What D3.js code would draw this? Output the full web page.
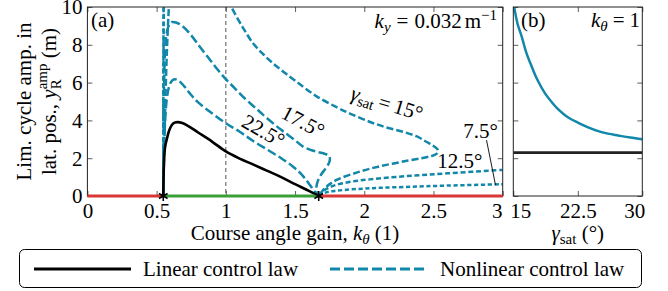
<!DOCTYPE html>
<html><head><meta charset="utf-8">
<script src="https://cdn.jsdelivr.net/npm/d3@7"></script>
<style>
body{margin:0;background:#fff}
svg{display:block}
text{font-family:"Liberation Serif","Tinos","Noto Serif","DejaVu Serif",serif;fill:#000;white-space:pre}
</style></head>
<body><svg id="c" width="668" height="291" xml:space="preserve"></svg>
<script>
// ---------- data ----------
const kTicks = [0, 0.5, 1, 1.5, 2, 2.5, 3];
const ampTicks = [0, 2, 4, 6, 8, 10];
const gammaTicks = [15, 22.5, 30];
const bifurcationK = [0.548, 1.671];
const stabilitySegments = [[0, 0.548, "unstable"], [0.548, 1.671, "stable"], [1.671, 3, "unstable"]];

// linear control law
const linK = [0.548,0.550,0.553,0.558,0.565,0.575,0.59,0.61,0.63,0.655,0.68,0.72,0.8,0.9,1.0,1.1,1.2,1.3,1.4,1.5,1.6,1.671];
const linY = [0,0.9,1.7,2.4,2.75,3.05,3.45,3.76,3.88,3.91,3.87,3.74,3.36,2.88,2.36,1.98,1.66,1.33,1.0,0.63,0.27,0];

// nonlinear, gamma_sat = 22.5
const g225K = [0.548,0.551,0.556,0.563,0.573,0.585,0.60,0.615,0.632,0.66,0.7,0.74,0.8,0.9,1.0,1.1,1.2,1.3,1.4,1.486,1.54,1.58,1.61,1.64,1.671];
const g225Y = [0,1.5,3.0,4.2,5.1,5.65,5.98,6.13,6.18,6.1,5.8,5.43,4.95,4.38,3.85,3.4,2.9,2.45,2.0,1.55,1.2,0.85,0.55,0.25,0];
// gamma_sat = 17.5
const g175K = [0.548,0.549,0.551,0.554,0.558,0.565,0.575,0.59,0.608,0.64,0.692,0.75,0.812,0.87,0.933,1.005,1.065,1.125,1.2,1.245,1.3,1.4,1.5,1.558,1.62,1.68,1.72,1.745,1.752,1.745,1.72,1.69,1.665,1.655,1.66,1.671];
const g175Y = [0,2,4,5.8,7.1,8.1,8.7,9.05,9.2,9.18,8.96,8.5,7.9,7.35,6.76,6.14,5.7,5.25,4.75,4.46,4.1,3.5,2.95,2.61,2.42,2.3,2.22,2.12,1.95,1.75,1.45,1.15,0.8,0.5,0.2,0];
// gamma_sat = 15 (two branches)
const g15aK = [0.548,0.555,0.565,0.575,0.585,0.592];
const g15aY = [0,2.5,5.5,7.8,9.5,10.5];
const g15bK = [1.02,1.041,1.12,1.197,1.27,1.341,1.42,1.51,1.65,1.8,1.9,2.038,2.15,2.279,2.38,2.448,2.5,2.532,2.525,2.5,2.448,2.279,2.1,1.95,1.8,1.72,1.671];
const g15bY = [10.4,10,8.95,8.08,7.5,7.02,6.55,6.05,5.3,4.7,4.35,3.93,3.65,3.4,3.15,2.87,2.65,2.43,2.25,2.15,2.05,1.82,1.55,1.25,0.85,0.45,0];
// gamma_sat = 12.5
const g125aK = [0.548,0.549,0.5515];
const g125aY = [0,5,10.5];
const g125bK = [1.671,1.71,1.78,1.9,2.04,2.3,2.6,3.0];
const g125bY = [0,0.3,0.55,0.75,0.88,1.05,1.2,1.38];
// gamma_sat = 7.5
const g75aK = [0.548,0.5485,0.5505];
const g75aY = [0,5,10.5];
const g75bK = [1.671,1.72,1.8,2.04,2.3,2.6,3.0];
const g75bY = [0,0.18,0.28,0.41,0.48,0.55,0.62];

// panel (b): k_theta = 1
const bGamma = [15.1,15.5,15.98,16.5,17.14,17.8,18.69,19.5,20.23,21.3,22.56,23.7,24.88,26,27.2,28.6,30];
const bAmpNonlin = [10,9.1,8.43,7.6,6.85,6.15,5.43,4.95,4.58,4.18,3.87,3.63,3.43,3.3,3.2,3.09,3.0];
const bAmpLin = 2.3;

// curve labels (data-space anchors)
const curveLabels = [
  {txt:"15", gamma:true, k:2.149, y:4.92, rot:17},
  {txt:"17.5", k:1.534, y:3.97, rot:28},
  {txt:"22.5", k:1.246, y:3.49, rot:30},
  {txt:"12.5", k:2.69, y:1.85, rot:0},
  {txt:"7.5", k:2.84, y:3.44, rot:0}
];
const leader = [[2.883,2.96],[2.948,0.58]];

// ---------- layout ----------
const BLUE = "#1187aa", RED = "#d93636", GREEN = "#3aa03a";
const FONT = '"Liberation Serif","Tinos","Noto Serif","DejaVu Serif",serif';
const svg = d3.select("#c");
const A = {l:87.4, r:502.7, t:7, b:196};
const B = {l:513.3, r:642.3, t:7, b:196};
const x = d3.scaleLinear().domain([0,3]).range([A.l, A.r]);
const y = d3.scaleLinear().domain([0,10]).range([A.b, A.t]);
const xb = d3.scaleLinear().domain([15,30]).range([B.l, B.r]);
const FS = 21, SS = 15;

function rich(parent, pieces, px, py, anchor, rot, size) {
  size = size || FS;
  const outer = parent.append("g").attr("transform", `translate(${px},${py}) rotate(${rot||0})`);
  const g = outer.append("g");
  let cx = 0, lastStart = 0;
  pieces.forEach(p => {
    if (p.gap) { cx += p.gap; return; }
    const t = g.append("text").text(p.t)
      .attr("font-size", p.s || size)
      .attr("font-family", FONT)
      .attr("font-style", p.i ? "italic" : "normal")
      .attr("y", p.dy || 0);
    const w = t.node().getComputedTextLength();
    let sx;
    if (p.stack) { sx = lastStart; cx = Math.max(cx, sx + w); }
    else { sx = cx; lastStart = sx; cx += w; }
    t.attr("x", sx);
  });
  const off = anchor === "middle" ? -cx/2 : anchor === "end" ? -cx : 0;
  g.attr("transform", `translate(${off},0)`);
  return outer;
}

svg.append("clipPath").attr("id","clipA").append("rect")
  .attr("x",A.l).attr("y",A.t).attr("width",A.r-A.l).attr("height",A.b-A.t);
svg.append("clipPath").attr("id","clipB").append("rect")
  .attr("x",B.l).attr("y",B.t).attr("width",B.r-B.l).attr("height",B.b-B.t);

// ---------- panel (a) axes ----------
function styleAxis(g){
  g.attr("font-family", FONT);
  g.select(".domain").remove();
  g.selectAll(".tick line").attr("stroke","#333").attr("stroke-width",0.8);
  g.selectAll("text").attr("font-size",FS).attr("font-family",FONT).attr("fill","#000");
}
const xAxisA = svg.append("g").attr("transform",`translate(0,${A.b})`)
  .call(d3.axisBottom(x).tickValues(kTicks).tickSize(-5).tickPadding(5).tickFormat(d3.format("")))
  .call(styleAxis);
xAxisA.selectAll("text").attr("dy","0.8em");
xAxisA.selectAll(".tick").filter(d=>d===3).select("text").attr("dx",-6);
svg.append("g").attr("transform",`translate(0,${A.t})`)
  .call(d3.axisTop(x).tickValues(kTicks).tickSize(-5).tickFormat("")).call(styleAxis);
svg.append("g").attr("transform",`translate(${A.l},0)`)
  .call(d3.axisLeft(y).tickValues(ampTicks).tickSize(-5).tickPadding(5)).call(styleAxis)
  .selectAll("text").attr("dy","0.33em");
svg.append("g").attr("transform",`translate(${A.r},0)`)
  .call(d3.axisRight(y).tickValues(ampTicks).tickSize(-5).tickFormat("")).call(styleAxis);

svg.append("line").attr("x1",x(1)).attr("x2",x(1)).attr("y1",A.t).attr("y2",A.b)
  .attr("stroke","#555").attr("stroke-width",1).attr("stroke-dasharray","4,3");

const line = d3.line().x(d=>x(d[0])).y(d=>y(d[1])).curve(d3.curveCatmullRom.alpha(0.5));
const zip = (a,b) => a.map((v,i)=>[v,b[i]]);
const plotA = svg.append("g").attr("clip-path","url(#clipA)");

const blueSeries = [
  [g225K,g225Y,"9,3.5"],[g175K,g175Y,"9,3.5"],
  [g15aK,g15aY,"7,3"],[g15bK,g15bY,"7,3"],
  [g125aK,g125aY,"5,2.7"],[g125bK,g125bY,"5,2.7"],
  [g75aK,g75aY,"4.2,2.6"],[g75bK,g75bY,"4.2,2.6"]
];
blueSeries.forEach(([kk,yy,dash])=>{
  plotA.append("path").datum(zip(kk,yy)).attr("d",line)
    .attr("fill","none").attr("stroke",BLUE).attr("stroke-width",2.5).attr("stroke-dasharray",dash);
});
plotA.append("path").datum(zip(linK,linY)).attr("d",line)
  .attr("fill","none").attr("stroke","#000").attr("stroke-width",2.6);

svg.append("rect").attr("x",A.l).attr("y",A.t).attr("width",A.r-A.l).attr("height",A.b-A.t)
  .attr("fill","none").attr("stroke","#222").attr("stroke-width",1);

stabilitySegments.forEach(([a,b,s])=>{
  svg.append("line").attr("x1",x(a)).attr("x2",x(b)).attr("y1",y(0)).attr("y2",y(0))
    .attr("stroke", s==="stable"?GREEN:RED).attr("stroke-width",3);
});
bifurcationK.forEach(k=>{
  svg.append("path").attr("d",d3.symbol(d3.symbolAsterisk,70)())
    .attr("transform",`translate(${x(k)},${y(0)})`).attr("fill","none").attr("stroke","#000").attr("stroke-width",1.6);
});

curveLabels.forEach(L=>{
  const pieces = L.gamma
    ? [{t:"γ",i:true},{t:"sat",s:SS,dy:4},{gap:4},{t:"="},{gap:4},{t:L.txt+"°"}]
    : [{t:L.txt+"°"}];
  rich(svg, pieces, x(L.k), y(L.y)+7, "middle", L.rot, FS);
});
svg.append("line").attr("x1",x(leader[0][0])).attr("y1",y(leader[0][1]))
  .attr("x2",x(leader[1][0])).attr("y2",y(leader[1][1])).attr("stroke","#000").attr("stroke-width",0.9);

rich(svg,[{t:"(a)"}],91,27,"start",0,FS);
rich(svg,[{t:"k",i:true},{t:"y",i:true,s:SS,dy:4},{gap:6},{t:"="},{gap:6},{t:"0.032"},{gap:3},{t:"m"},{t:"−1",s:SS,dy:-8}],497,28,"end",0,FS);

rich(svg,[{t:"Course angle gain, "},{t:"k",i:true},{t:"θ",i:true,s:SS,dy:4},{t:" (1)"}],(A.l+A.r)/2,240,"middle",0,FS);
rich(svg,[{t:"Lim. cycle amp. in"}],31,(A.t+A.b)/2,"middle",-90,FS);
rich(svg,[{t:"lat. pos., "},{t:"y",i:true},{t:"amp",s:SS,dy:-9},{t:"R",s:SS,dy:5,stack:true},{t:" (m)"}],56,(A.t+A.b)/2,"middle",-90,FS);

// ---------- panel (b) ----------
const xAxisB = svg.append("g").attr("transform",`translate(0,${B.b})`)
  .call(d3.axisBottom(xb).tickValues(gammaTicks).tickSize(-5).tickPadding(5).tickFormat(d=>d))
  .call(styleAxis);
xAxisB.selectAll("text").attr("dy","0.8em");
xAxisB.selectAll(".tick").filter(d=>d===15).select("text").attr("dx",7);
xAxisB.selectAll(".tick").filter(d=>d===30).select("text").attr("dx",-8);
svg.append("g").attr("transform",`translate(0,${B.t})`)
  .call(d3.axisTop(xb).tickValues(gammaTicks).tickSize(-5).tickFormat("")).call(styleAxis);
svg.append("g").attr("transform",`translate(${B.l},0)`)
  .call(d3.axisLeft(y).tickValues(ampTicks).tickSize(-5).tickFormat("")).call(styleAxis);
svg.append("g").attr("transform",`translate(${B.r},0)`)
  .call(d3.axisRight(y).tickValues(ampTicks).tickSize(-5).tickFormat("")).call(styleAxis);

const plotB = svg.append("g").attr("clip-path","url(#clipB)");
plotB.append("line").attr("x1",xb(15)).attr("x2",xb(30)).attr("y1",y(bAmpLin)).attr("y2",y(bAmpLin))
  .attr("stroke","#222").attr("stroke-width",2.8);
const lineB = d3.line().x(d=>xb(d[0])).y(d=>y(d[1])).curve(d3.curveCatmullRom.alpha(0.5));
plotB.append("path").datum(zip(bGamma,bAmpNonlin)).attr("d",lineB)
  .attr("fill","none").attr("stroke",BLUE).attr("stroke-width",2.5);
svg.append("rect").attr("x",B.l).attr("y",B.t).attr("width",B.r-B.l).attr("height",B.b-B.t)
  .attr("fill","none").attr("stroke","#222").attr("stroke-width",1);
rich(svg,[{t:"(b)"}],521,27,"start",0,FS);
rich(svg,[{t:"k",i:true},{t:"θ",i:true,s:SS,dy:4},{gap:5},{t:"="},{gap:5},{t:"1"}],640,27,"end",0,FS);
rich(svg,[{t:"γ",i:true},{t:"sat",s:SS,dy:4},{t:" (°)"}],(B.l+B.r)/2,240,"middle",0,FS);

// ---------- legend ----------
const legend = svg.append("g");
legend.append("rect").attr("x",19.5).attr("y",249.5).attr("width",622).attr("height",38).attr("rx",5)
  .attr("fill","#fff").attr("stroke","#000").attr("stroke-width",1);
legend.append("line").attr("x1",34).attr("x2",131).attr("y1",269).attr("y2",269)
  .attr("stroke","#000").attr("stroke-width",3);
rich(legend,[{t:"Linear control law"}],143,276,"start",0,FS);
legend.append("line").attr("x1",330).attr("x2",426).attr("y1",269).attr("y2",269)
  .attr("stroke",BLUE).attr("stroke-width",3).attr("stroke-dasharray","10,4");
rich(legend,[{t:"Nonlinear control law"}],440,276,"start",0,FS);
</script></body></html>
